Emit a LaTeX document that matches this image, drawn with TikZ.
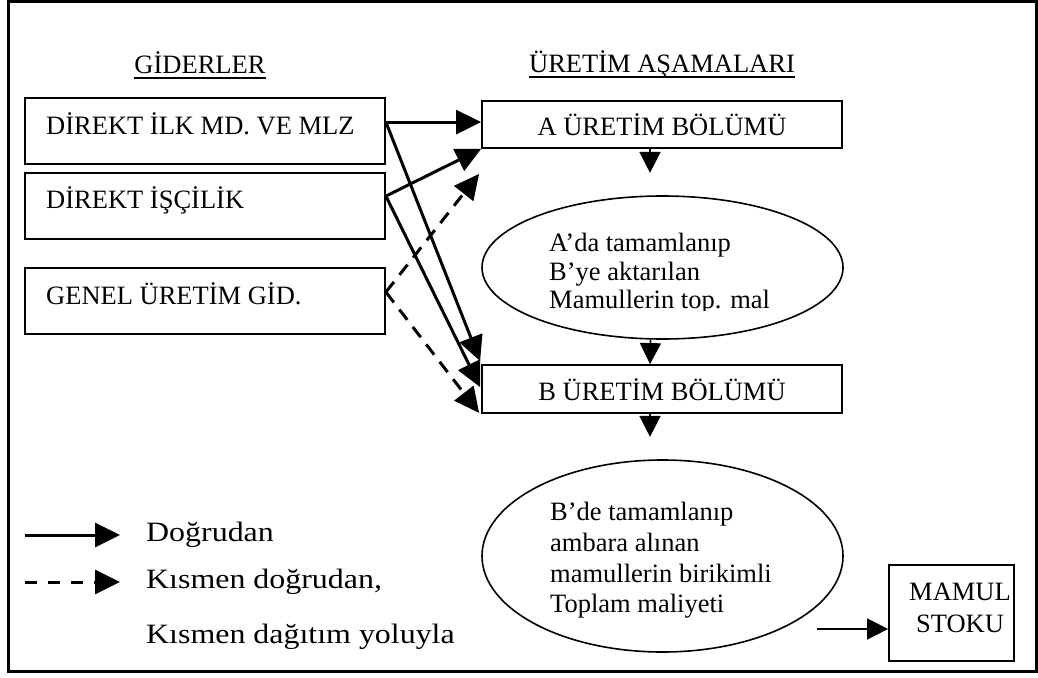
\documentclass[tikz,border=0pt]{standalone}
\usepackage{fontspec}
\setmainfont{Liberation Serif}
\newfontfamily\legendfont[FakeStretch=1.14]{Liberation Serif}
\usetikzlibrary{arrows.meta,shapes.geometric,calc}
\begin{document}
\begin{tikzpicture}[x=1pt,y=-1pt,
  txt/.style={font=\fontsize{26.5}{30}\selectfont, inner sep=0pt},
  legtxt/.style={font=\legendfont\fontsize{28}{32}\selectfont, inner sep=0pt},
  box/.style={draw, line width=1.8pt, inner sep=0pt},
  oval/.style={draw, ellipse, line width=1.6pt, inner sep=0pt},
  thickarrow/.style={line width=3pt, -{Triangle[length=25pt,width=24pt]}},
  dasharrow/.style={thickarrow, dash pattern=on 13pt off 9pt},
  thinarrow/.style={line width=1.6pt, -{Triangle[length=21pt,width=21pt]}},
  uline/.style={line width=1.6pt}
]
\useasboundingbox (0,0) rectangle (1038,677);
\draw[line width=3pt] (8,2) rectangle (1036.5,671);

% headers
\node[txt, anchor=base] (h1) at (200,74) {GİDERLER};
\draw[uline] ($(h1.base west)+(0,4)$) -- ($(h1.base east)+(0,4)$);
\node[txt, anchor=base] (h2) at (662,73) {ÜRETİM AŞAMALARI};
\draw[uline] ($(h2.base west)+(0,4)$) -- ($(h2.base east)+(0,4)$);

% cost boxes
\node[box, minimum width=360pt, minimum height=66pt] (d1) at (205,131) {};
\node[txt, anchor=base west] (t1) at (46,134) {DİREKT İLK MD. VE MLZ};
\node[box, minimum width=360pt, minimum height=66pt] (d2) at (205,206) {};
\node[txt, anchor=base west] (t2) at (46,208) {DİREKT İŞÇİLİK};
\node[box, minimum width=360pt, minimum height=66pt] (d3) at (205,301) {};
\node[txt, anchor=base west] (t3) at (46,304) {GENEL ÜRETİM GİD.};

% production stages
\node[box, minimum width=360pt, minimum height=47pt] (a) at (662,124.5) {};
\node[txt, anchor=base] (ta) at (662,135) {A ÜRETİM BÖLÜMÜ};
\node[box, minimum width=360pt, minimum height=48pt] (b) at (662,389) {};
\node[txt, anchor=base] (tb) at (662,400) {B ÜRETİM BÖLÜMÜ};

\node[oval, minimum width=361pt, minimum height=143pt] (e1) at (662.5,267.5) {};
\begin{scope}
  \clip (482,180) rectangle (843,310);
  \foreach \t/\yy in {A’da tamamlanıp/251, B’ye aktarılan/280, Mamullerin top. mal/308}
    \node[txt, anchor=base west] at (549,\yy) {\t};
\end{scope}

\node[oval, minimum width=361pt, minimum height=192pt] (e2) at (662.5,556) {};
\foreach \t/\yy in {B’de tamamlanıp/520, ambara alınan/551, mamullerin birikimli/582, Toplam maliyeti/612}
  \node[txt, anchor=base west] at (550,\yy) {\t};

\node[box, minimum width=125pt, minimum height=96pt] (m) at (951.5,613) {};
\node[txt, anchor=base] (tm1) at (960,600) {MAMUL};
\node[txt, anchor=base] (tm2) at (960,632) {STOKU};

% connectors
\draw[thickarrow] ($(d1.north east)+(0,25)$) -- ($(a.north west)+(0,22)$);
\draw[thickarrow] ($(d1.north east)+(0,25)$) -- ($(b.north west)+(-1,-3)$);
\draw[thickarrow] ($(d2.north east)+(0,24)$) -- (a.south west);
\draw[thickarrow] ($(d2.north east)+(0,24)$) -- ($(b.north west)+(-1,23)$);
\draw[dasharrow] ($(d3.north east)+(0,25)$) -- ($(a.south west)+(-2,25)$);
\draw[dasharrow] ($(d3.north east)+(0,25)$) -- ($(b.south west)+(-2,-1)$);

\coordinate (a1) at ($(a.south)+(-12,24)$);
\draw[thinarrow] ($(a.south)+(-12,0)$) -- (a1);
\draw[thinarrow] ($(e1.south)+(-12,0)$) -- ($(b.north)+(-12,0)$);
\coordinate (b1) at ($(b.south)+(-12,23)$);
\draw[thinarrow] ($(b.south)+(-12,0)$) -- (b1);
\coordinate (m0) at (817,629);
\draw[thinarrow] (m0) -- ($(m.west)+(0,16)$);

% legend
\coordinate (l1s) at (25,535);
\coordinate (l1e) at (120,535);
\draw[thickarrow] (l1s) -- (l1e);
\node[legtxt, anchor=base west] (lg1) at (146,541) {Doğrudan};
\coordinate (l2s) at (25,582);
\coordinate (l2e) at (120,582);
\draw[thickarrow, dash pattern=on 12pt off 11pt] (l2s) -- (l2e);
\node[legtxt, anchor=base west] (lg2) at (146,588) {Kısmen doğrudan,};
\node[legtxt, anchor=base west] (lg3) at (146,643) {Kısmen dağıtım yoluyla};
\end{tikzpicture}
\end{document}
